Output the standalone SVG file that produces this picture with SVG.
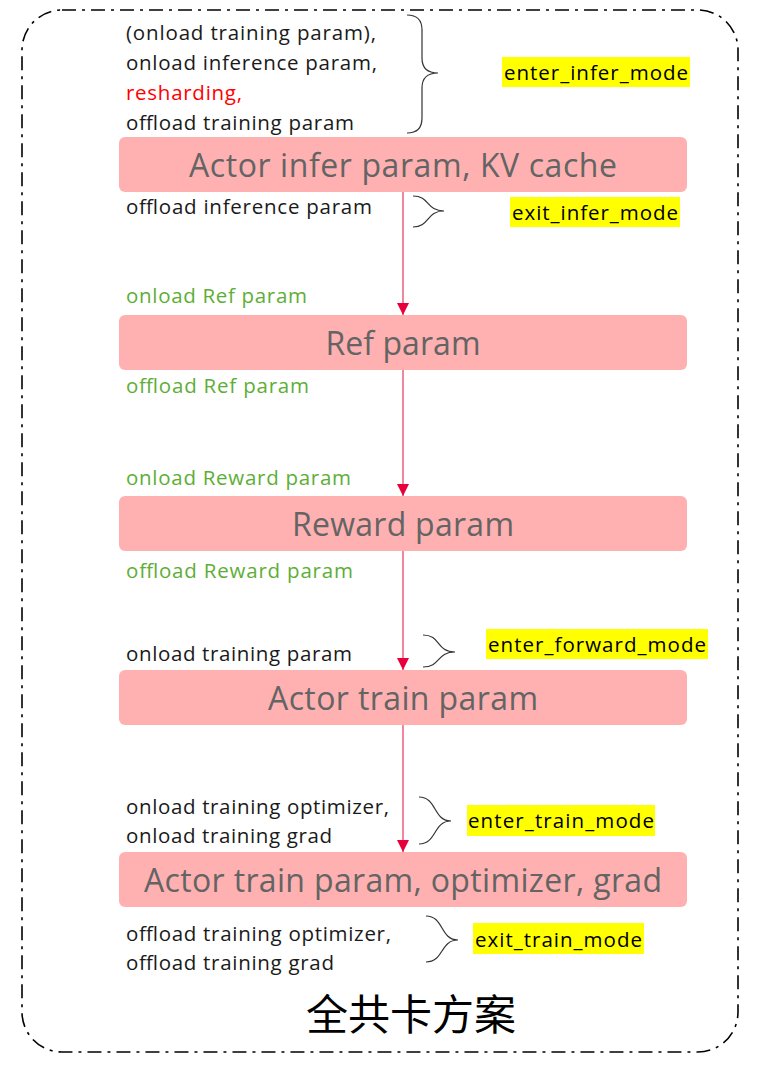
<svg xmlns="http://www.w3.org/2000/svg" width="769" height="1075" viewBox="0 0 769 1075">
<style>
.box{fill:#FFB1B1;}
.title{font-family:"Open Sans",Lato,sans-serif;font-size:32px;fill:#646464;text-anchor:middle;}
.lbl{font-family:"Open Sans",Lato,sans-serif;font-size:20.5px;fill:#1a1a1a;}
.grn{fill:#5DAE36;}
.red{fill:#FF0000;}
.hl{fill:#FFFF00;}
.mode{font-family:"Open Sans",Lato,sans-serif;font-size:20.5px;fill:#000;}
.brace{fill:none;stroke:#333;stroke-width:1.2;}
.conn{stroke:#E0103A;stroke-width:1;fill:none;}
.frame{fill:none;stroke:#000;stroke-width:1.6;stroke-dasharray:14 6 3 6;}
</style>
<defs>
<marker id="ah" markerUnits="userSpaceOnUse" markerWidth="12" markerHeight="12" refX="12" refY="6" orient="auto">
<path d="M0,0 L12,6 L0,12 z" fill="#E8003A"/>
</marker>
</defs>
<rect width="769" height="1075" fill="#fff"/>
<rect id="frame" class="frame" x="22" y="10" width="716" height="1042" rx="40" ry="40"/>

<g id="connectors">
<line class="conn" x1="403" y1="192" x2="403" y2="315" marker-end="url(#ah)"/>
<line class="conn" x1="403" y1="370" x2="403" y2="496" marker-end="url(#ah)"/>
<line class="conn" x1="403" y1="551" x2="403" y2="670" marker-end="url(#ah)"/>
<line class="conn" x1="403" y1="725" x2="403" y2="852" marker-end="url(#ah)"/>
</g>

<g id="node-actor-infer">
<rect class="box" x="119" y="137" width="568" height="55" rx="6"/>
<text class="title" x="403" y="177" textLength="428">Actor infer param, KV cache</text>
</g>
<g id="node-ref">
<rect class="box" x="119" y="315" width="568" height="55" rx="6"/>
<text class="title" x="403" y="355" textLength="155">Ref param</text>
</g>
<g id="node-reward">
<rect class="box" x="119" y="496" width="568" height="55" rx="6"/>
<text class="title" x="403" y="536" textLength="222">Reward param</text>
</g>
<g id="node-actor-train">
<rect class="box" x="119" y="670" width="568" height="55" rx="6"/>
<text class="title" x="403" y="710" textLength="270">Actor train param</text>
</g>
<g id="node-actor-train-full">
<rect class="box" x="119" y="852" width="568" height="55" rx="6"/>
<text class="title" x="403" y="892" textLength="518">Actor train param, optimizer, grad</text>
</g>

<g id="labels">
<text class="lbl" x="126" y="40" textLength="250">(onload training param),</text>
<text class="lbl" x="126" y="70" textLength="251">onload inference param,</text>
<text class="lbl red" x="126" y="100" textLength="116">resharding,</text>
<text class="lbl" x="126" y="130" textLength="228">offload training param</text>
<text class="lbl" x="126" y="214" textLength="246">offload inference param</text>
<text class="lbl grn" x="126" y="303" textLength="181">onload Ref param</text>
<text class="lbl grn" x="126" y="393" textLength="183">offload Ref param</text>
<text class="lbl grn" x="126" y="485" textLength="225">onload Reward param</text>
<text class="lbl grn" x="126" y="578" textLength="227">offload Reward param</text>
<text class="lbl" x="126" y="661" textLength="226">onload training param</text>
<text class="lbl" x="126" y="814" textLength="263">onload training optimizer,</text>
<text class="lbl" x="126" y="843" textLength="206">onload training grad</text>
<text class="lbl" x="126" y="941" textLength="265">offload training optimizer,</text>
<text class="lbl" x="126" y="970" textLength="208">offload training grad</text>
</g>

<g id="braces">
<path class="brace" d="M407,15 Q422,15 422,30 L422,58 Q422,73 438,73 Q422,73 422,88 L422,118 Q422,133 407,133"/>
<path class="brace" d="M413,196 C430,196 426,211 444,211 C426,211 430,227 413,227"/>
<path class="brace" d="M423,635 C441,635 436,652 455,652 C436,652 441,667 423,667"/>
<path class="brace" d="M419,797 C437,797 433,821 451,821 C433,821 437,844 419,844"/>
<path class="brace" d="M426,916 C444,916 440,940 458,940 C440,940 444,962 426,962"/>
</g>

<g id="mode-enter-infer">
<rect class="hl" x="502" y="57" width="188" height="30"/>
<text class="mode" x="504" y="80" textLength="184">enter_infer_mode</text>
</g>
<g id="mode-exit-infer">
<rect class="hl" x="510" y="197" width="170" height="30"/>
<text class="mode" x="512" y="220" textLength="166">exit_infer_mode</text>
</g>
<g id="mode-enter-forward">
<rect class="hl" x="486" y="629" width="222" height="30"/>
<text class="mode" x="488" y="652" textLength="218">enter_forward_mode</text>
</g>
<g id="mode-enter-train">
<rect class="hl" x="467" y="805" width="188" height="31"/>
<text class="mode" x="468" y="828" textLength="186">enter_train_mode</text>
</g>
<g id="mode-exit-train">
<rect class="hl" x="473" y="923" width="171" height="31"/>
<text class="mode" x="475" y="947" textLength="167">exit_train_mode</text>
</g>

<text x="411" y="1030" font-family="'Noto Sans CJK SC',sans-serif" font-size="42" text-anchor="middle" fill="#000">全共卡方案</text>
</svg>
